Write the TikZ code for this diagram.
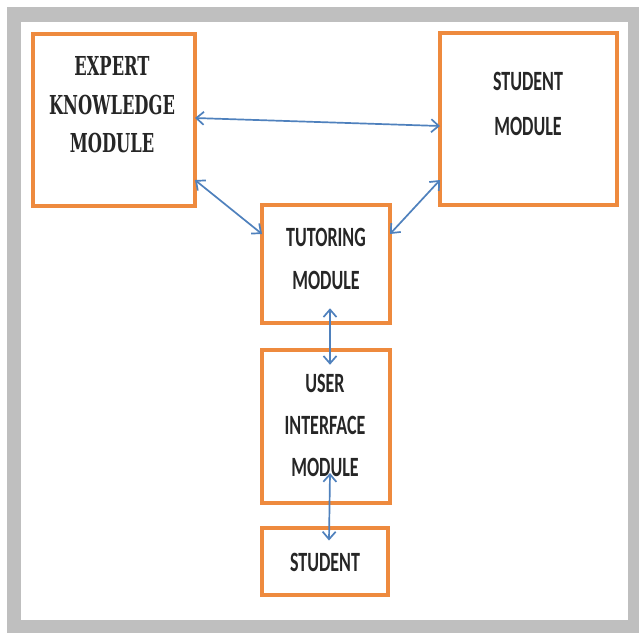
\documentclass[tikz,border=0pt]{standalone}
\usepackage{fontspec}
\setmainfont{Carlito}
\newfontfamily\expfont{DejaVu Serif}
\usetikzlibrary{arrows.meta,calc}
\definecolor{frameg}{HTML}{BFBFBF}
\definecolor{boxor}{HTML}{EE8A3E}
\definecolor{arrbl}{HTML}{4F81BD}
\definecolor{txtc}{HTML}{262626}
\newcommand\tx[1]{\scalebox{1}[1.55]{#1}}
\newcommand\ty[1]{\scalebox{1}[1.6]{#1}}
\begin{document}
\begin{tikzpicture}[x=1pt,y=-1pt,
  box/.style={draw=boxor,line width=3.5pt,fill=white,inner sep=0pt,outer sep=0pt,minimum width=#1},
  lbl/.style={text=txtc,align=center,inner sep=0pt,font={\bfseries\fontsize{18}{#1}\selectfont}},
  elbl/.style={text=txtc,align=center,inner sep=0pt,font={\expfont\bfseries\fontsize{16.3}{#1}\selectfont}},
  arr/.style={draw=arrbl,line width=1.7pt,{Straight Barb[length=7.5pt,width=13pt]}-{Straight Barb[length=7.5pt,width=13pt]}}]
\useasboundingbox (0,0) rectangle (639,633);
\fill[frameg] (7,7) rectangle (639,633);
\fill[white] (21,22) rectangle (628,620);
% boxes
\node[box=162pt,minimum height=172pt] (exp) at (114,120) {};
\node[box=177pt,minimum height=172pt] (stm) at (528.5,119) {};
\node[box=128pt,minimum height=118pt] (tut) at (326,264) {};
\node[box=128pt,minimum height=153pt] (ui) at (326,426.5) {};
\node[box=126pt,minimum height=67pt] (st) at (325,561.5) {};
% labels
\node[elbl=38.5pt] (expt) at (112,104.7) {\ty{EXPERT}\\\ty{KNOWLEDGE}\\\ty{MODULE}};
\node[lbl=45pt] (stmt) at (528,103.5) {\tx{STUDENT}\\\tx{MODULE}};
\node[lbl=43pt] (tutt) at (326,258.5) {\tx{TUTORING}\\\tx{MODULE}};
\node[lbl=42pt] (uit) at (325,425) {\tx{USER}\\\tx{INTERFACE}\\\tx{MODULE}};
\node[lbl=20pt] (stt) at (325,562) {\tx{STUDENT}};
% connectors
\draw[arr] (exp.east |- 0,118) -- (stm.west |- 0,126);
\draw[arr] (exp.east |- 0,180) -- (tut.west |- 0,234);
\draw[arr] (stm.west |- 0,180) -- (tut.east |- 0,234);
\draw[arr] ($(tut.south)+(4,-14.75)$) -- ($(ui.north)+(4,14.75)$);
\draw[arr] ($(ui.south)+(4,-30)$) -- ($(st.north)+(4,12.5)$);
\end{tikzpicture}
\end{document}
